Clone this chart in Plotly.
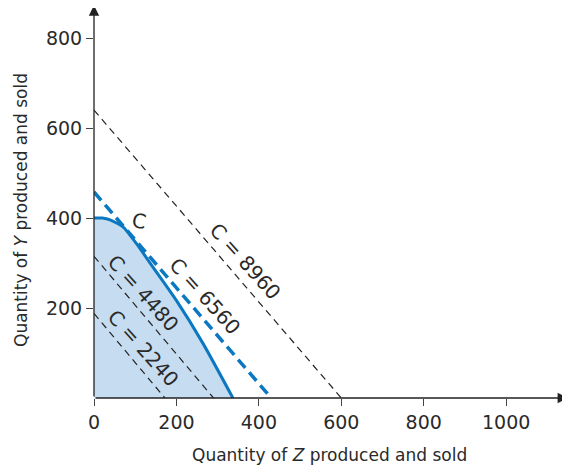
import plotly.graph_objects as go

# Iso-cost lines
cost_values = [2240, 4480, 6560, 8960]
cost_y_intercepts = [188, 315, 458, 640]
cost_x_intercepts = [172, 290, 430, 600]

# Production possibility frontier
ppf_x = [0, 20, 39, 71, 103, 143, 199, 264, 337]
ppf_y = [400, 400, 396, 380, 343, 291, 218, 122, 0]

x_ticks = [0, 200, 400, 600, 800, 1000]
y_ticks = [200, 400, 600, 800]

label_pos = {2240: (119, 111), 4480: (119, 233), 6560: (269, 227), 8960: (366, 304)}

BLUE = "#0b78c1"
FILL = "#c6ddf1"
FONT = "DejaVu Sans"
TXT = "#2a2a2a"

fig = go.Figure()

fig.add_trace(go.Scatter(x=ppf_x, y=ppf_y, mode="lines", line=dict(color=BLUE, width=3, shape="spline", smoothing=0.6),
                         fill="tozeroy", fillcolor=FILL, hoverinfo="skip"))

for c, yi, xi in zip(cost_values, cost_y_intercepts, cost_x_intercepts):
    if c == 6560:
        line = dict(color=BLUE, width=3.5, dash="11px,6px")
    else:
        line = dict(color="#222", width=1.2, dash="7px,5px")
    fig.add_trace(go.Scatter(x=[0, xi], y=[yi, 0], mode="lines", line=line, hoverinfo="skip"))
    lx, ly = label_pos[c]
    fig.add_annotation(x=lx, y=ly, text=f"C = {c}", showarrow=False, textangle=48,
                       xanchor="center", yanchor="middle",
                       font=dict(size=20, color=TXT, family=FONT))

fig.add_annotation(x=109, y=393, text="C", showarrow=False, textangle=10,
                   xanchor="center", yanchor="middle",
                   font=dict(size=20, color=TXT, family=FONT))

# axis arrows
fig.add_annotation(x=1150, y=0, ax=0, ay=0, xref="x", yref="y", axref="x", ayref="y",
                   showarrow=True, arrowhead=2, arrowsize=1.6, arrowwidth=1.3, arrowcolor="#222", text="")
fig.add_annotation(x=0, y=873, ax=0, ay=0, xref="x", yref="y", axref="x", ayref="y",
                   showarrow=True, arrowhead=2, arrowsize=1.6, arrowwidth=1.3, arrowcolor="#222", text="")

# axis titles (plot area: 474 x 390 px)
fig.add_annotation(xref="paper", yref="paper", x=(329 - 94) / 474, y=-57 / 390,
                   xanchor="center", yanchor="middle",
                   text="Quantity of <i>Z</i> produced and sold",
                   showarrow=False, font=dict(size=17, color=TXT, family=FONT))
fig.add_annotation(xref="paper", yref="paper", x=(21 - 94) / 474, y=(398 - 210) / 390,
                   xanchor="center", yanchor="middle",
                   text="Quantity of <i>Y</i> produced and sold",
                   showarrow=False, textangle=-90, font=dict(size=17, color=TXT, family=FONT))

fig.update_layout(
    width=562, height=462,
    margin=dict(l=86, r=2, t=0, b=72),
    plot_bgcolor="white", paper_bgcolor="white",
    showlegend=False,
    font=dict(family=FONT, size=19, color=TXT),
    xaxis=dict(range=[0, 1150], tickvals=x_ticks, ticks="outside", ticklen=7, tickcolor="#444",
               showline=False, showgrid=False, zeroline=False, automargin=False,
               tickfont=dict(size=19, color=TXT)),
    yaxis=dict(range=[0, 867], tickvals=y_ticks, ticks="outside", ticklen=7, tickcolor="#444",
               showline=False, showgrid=False, zeroline=False, automargin=False,
               tickfont=dict(size=19, color=TXT)),
)

fig.write_html("out.html")
